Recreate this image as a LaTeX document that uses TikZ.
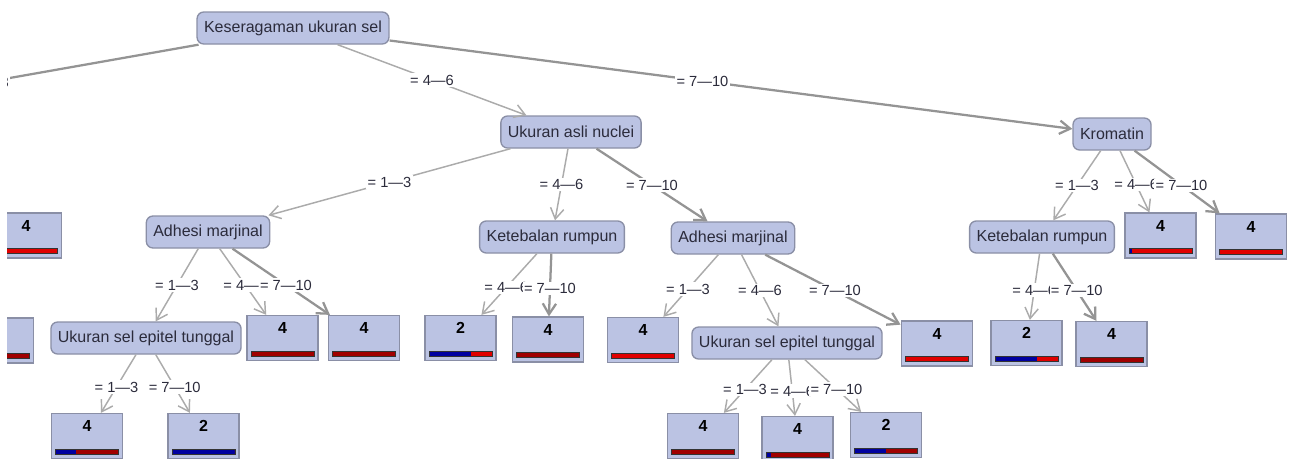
\documentclass[tikz,border=0pt]{standalone}
\usepackage{fontspec}
\setmainfont{Liberation Sans}
\usepackage{xcolor}
\definecolor{Periwinkle}{HTML}{BBC3E3}
\definecolor{Slate}{HTML}{8A8FA6}
\definecolor{Ink}{HTML}{2B2B3B}
\definecolor{Ash}{HTML}{ABABAB}
\definecolor{Smoke}{HTML}{949494}
\definecolor{Signal Red}{HTML}{E00000}
\definecolor{Maroon}{HTML}{A00000}
\definecolor{Navy}{HTML}{0000A0}
\colorlet{cBox}{Periwinkle}
\colorlet{cBorder}{Slate}
\colorlet{cText}{Ink}
\colorlet{cEdge}{Ash}
\colorlet{cEdgeDark}{Smoke}
\colorlet{cRed}{Signal Red}
\colorlet{cDark}{Maroon}
\colorlet{cBlue}{Navy}
\usepackage{tikz}
\usetikzlibrary{calc, arrows.meta}
\tikzset{
	font = \fontsize{12}{14}\selectfont,
	split/.style={
		draw=cBorder,
		fill=cBox,
		text=cText,
		rounded corners=5pt,
		line width=1pt,
		minimum height=24pt,
		inner xsep=5.25pt,
		inner ysep=0pt
	},
	leaf/.style={
		draw=cBorder,
		fill=cBox,
		text=black,
		line width=1.2pt,
		minimum width=53.5pt,
		inner sep=0pt,
		text height=13.5pt,
		text depth=20pt,
		font=\fontsize{12}{14}\selectfont\bfseries
	},
	edge/.style={
		draw=cEdge,
		line width=1.1pt,
		-{Straight Barb[length=8pt,width=10pt]}
	},
	heavy edge/.style={
		edge,
		draw=cEdgeDark,
		line width=1.7pt
	},
	cond/.style={
		fill=white,
		text=cText,
		inner sep=1pt,
		font=\fontsize{11}{13}\selectfont
	}
}
% class distribution bar at the foot of a leaf
\newcommand{\distbar}[3]{%
	\coordinate (#1-bl) at ($(#1.south west)+(5,-5)$);
	\coordinate (#1-tr) at ($(#1.south east)+(-5,-10)$);
	\coordinate (#1-mid) at ($(#1-bl)!#2!(#1-tr)$);
	\fill[fill=cBlue] (#1-bl) rectangle (#1-mid |- #1-tr);
	\fill[fill=#3] (#1-mid |- #1-bl) rectangle (#1-tr);
	\draw[black!80, line width=.6pt] (#1-bl) rectangle (#1-tr);
}
% edge from split to child, condition halfway between the centres
\newcommand{\splitedge}[4][edge]{%
	\draw[#1] (#2) -- (#3);
	\node[cond] (#2-#3) at ($(#2)!.5!(#3)$) {#4};
}

\begin{document}
\begin{tikzpicture}[x=.75pt, y=-.75pt]
\useasboundingbox (0,0) rectangle (1292,458);
\clip (7,0) rectangle (1292,458);

% ---
% Splits
% ---
\node[split] (root) at (293,28) {Keseragaman ukuran sel};
\node[split] (uan) at (571,132) {Ukuran asli nuclei};
\node[split] (krom) at (1112,134) {Kromatin};
\node[split] (adhA) at (208,232) {Adhesi marjinal};
\node[split] (ketA) at (552,237) {Ketebalan rumpun};
\node[split] (adhB) at (733,238) {Adhesi marjinal};
\node[split] (ketB) at (1042,237) {Ketebalan rumpun};
\node[split] (ukA) at (146,338) {Ukuran sel epitel tunggal};
\node[split] (ukB) at (787,343) {Ukuran sel epitel tunggal};
\coordinate (cutL) at (-319,136);

% ---
% Leaves
% ---
\node[leaf] (lfL0) at (26,235.5) {4};
\node[leaf] (lfL1) at (-2,340.5) {4};
\node[leaf] (lfA2) at (282.5,338) {4};
\node[leaf] (lfA3) at (364,338) {4};
\node[leaf] (lfA4) at (87,436) {4};
\node[leaf] (lfA5) at (203.5,436) {2};
\node[leaf] (lfK1) at (460.5,338) {2};
\node[leaf] (lfK2) at (548,339.5) {4};
\node[leaf] (lfB1) at (643,340) {4};
\node[leaf] (lfB2) at (937,343.5) {4};
\node[leaf] (lfB3) at (703,436) {4};
\node[leaf] (lfB4) at (797.5,439) {4};
\node[leaf] (lfB5) at (886,435) {2};
\node[leaf] (lfC1) at (1160.5,235.5) {4};
\node[leaf] (lfC2) at (1251,236.5) {4};
\node[leaf] (lfD1) at (1026.5,343) {2};
\node[leaf] (lfD2) at (1111.5,344) {4};

\foreach \n/\f/\col in {lfL0/0/cRed, lfL1/0/cDark, lfA2/0/cDark, lfA3/0/cDark,
	lfA4/.33/cDark, lfA5/1/cDark, lfK1/.67/cRed, lfK2/0/cDark, lfB1/0/cRed,
	lfB2/0/cRed, lfB3/0/cDark, lfB4/.08/cDark, lfB5/.5/cDark, lfC1/.04/cRed,
	lfC2/0/cRed, lfD1/.66/cRed, lfD2/0/cDark} {
	\distbar{\n}{\f}{\col}
}

% ---
% Transitions
% ---
\splitedge[heavy edge]{root}{cutL}{= 1---3}
\splitedge{root}{uan}{= 4---6}
\splitedge[heavy edge]{root}{krom}{= 7---10}

\splitedge{uan}{adhA}{= 1---3}
\splitedge{uan}{ketA}{= 4---6}
\splitedge[heavy edge]{uan}{adhB}{= 7---10}

\splitedge{adhA}{ukA}{= 1---3}
\splitedge{adhA}{lfA2}{= 4---6}
\splitedge[heavy edge]{adhA}{lfA3}{= 7---10}

\splitedge{ukA}{lfA4}{= 1---3}
\splitedge{ukA}{lfA5}{= 7---10}

\splitedge{ketA}{lfK1}{= 4---6}
\splitedge[heavy edge]{ketA}{lfK2}{= 7---10}

\splitedge{adhB}{lfB1}{= 1---3}
\splitedge{adhB}{ukB}{= 4---6}
\splitedge[heavy edge]{adhB}{lfB2}{= 7---10}

\splitedge{ukB}{lfB3}{= 1---3}
\splitedge{ukB}{lfB4}{= 4---6}
\splitedge{ukB}{lfB5}{= 7---10}

\splitedge{krom}{ketB}{= 1---3}
\splitedge{krom}{lfC1}{= 4---6}
\splitedge[heavy edge]{krom}{lfC2}{= 7---10}

\splitedge{ketB}{lfD1}{= 4---6}
\splitedge[heavy edge]{ketB}{lfD2}{= 7---10}
\end{tikzpicture}
\end{document}
